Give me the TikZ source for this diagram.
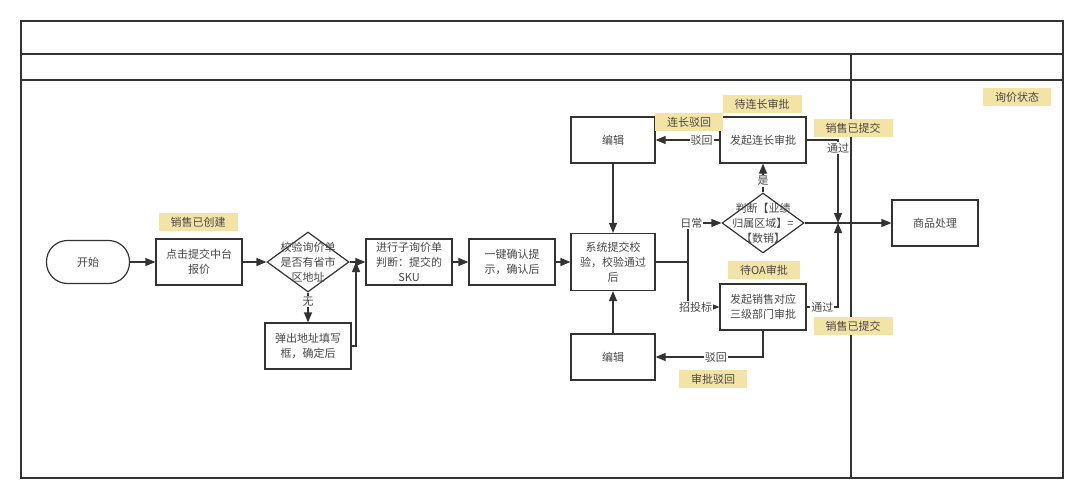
\documentclass[tikz,border=0pt]{standalone}
\usepackage{fontspec}
\setmainfont{Noto Sans CJK SC}
\usetikzlibrary{arrows.meta}
\usetikzlibrary{shapes.geometric}
\definecolor{tagyellow}{HTML}{F3E4A6}
\definecolor{linegray}{HTML}{333333}
\definecolor{txtgray}{HTML}{474747}

\begin{document}
\begin{tikzpicture}[x=1pt, y=-1pt, ->, >={Triangle[length=10pt,width=8pt]}, color=linegray, text=txtgray, line width=1.2pt, font=\fontsize{11}{15}\selectfont]
    \tikzstyle{box}=[draw=linegray, fill=white, minimum width=86, minimum height=46, align=center, inner sep=2pt]
    \tikzstyle{chk}=[diamond, draw=linegray, fill=white, inner sep=0pt, minimum width=82, minimum height=60]
    \tikzstyle{tag}=[fill=tagyellow, minimum height=18, inner xsep=12pt, inner ysep=0pt]
    \tikzstyle{lbl}=[fill=white, inner sep=1pt]
    \useasboundingbox (0,0) rectangle (1084,500);
    % frame
    \draw[-, line width=1.6pt] (21,21) rectangle (1063,478);
    \draw[-, line width=1.6pt] (21,54) -- (1063,54);
    \draw[-, line width=1.6pt] (21,80) -- (1063,80);
    \draw[-, line width=1.6pt] (851,54) -- (851,478);
    % main row
    \node[box, rounded corners=21, minimum width=83, minimum height=43]  (start)   at (88,262)	{开始};
    \node[box]    (click)[right of=start, node distance=111pt]		{点击提交中台\\报价};
    \node[chk, label={[align=center]center:校验询价单\\是否有省市\\区地址}]    (chk)[right of=click, node distance=109pt]		{};
    \node[box]    (popup)[below of=chk, node distance=84pt]		{弹出地址填写\\框，确定后};
    \node[box]    (sub)[right of=chk, node distance=101pt]		{进行子询价单\\判断：提交的\\SKU};
    \node[box]    (confirm)[right of=sub, node distance=103pt]		{一键确认提\\示，确认后};
    \node[box, minimum width=84, minimum height=57]    (sys)[right of=confirm, node distance=101pt]		{系统提交校\\验，校验通过\\后};
    \node[box, minimum width=84]    (edit1)[above of=sys, node distance=122pt]		{编辑};
    \node[box, minimum width=84]    (edit2)[below of=sys, node distance=95pt]		{编辑};
    % approval branch
    \node[chk, label={[align=center]center:判断【业绩\\归属区域】=\\【数销】}]    (dec)	at (763,223)	{};
    \node[box]    (lz)[above of=dec, node distance=83pt]		{发起连长审批};
    \node[box]    (oa)[below of=dec, node distance=84pt]		{发起销售对应\\三级部门审批};
    \node[box]    (goods)[right of=dec, node distance=172pt]		{商品处理};
    % status tags
    \node[tag]    (t1)	at (198,222)	{销售已创建};
    \node[tag]    (t2)	at (762,104)	{待连长审批};
    \node[tag]    (t3)	at (689,122)	{连长驳回};
    \node[tag]    (t4)	at (853,128)	{销售已提交};
    \node[tag]    (t5)	at (764,270)	{待OA审批};
    \node[tag]    (t6)	at (853,326)	{销售已提交};
    \node[tag]    (t7)	at (713,379)	{审批驳回};
    \node[tag]    (t8)	at (1017,97)	{询价状态};
    \coordinate (jp) at (356,262);
    \coordinate (jl) at (688,262);
    \coordinate (jr) at (838,223);
    \path
    (start)
      edge	(click)
    (click)
      edge	(chk)
    (chk)
      edge	(sub)
      edge	node[lbl, pos=0.3]{无}	(popup)
    (sub)
      edge	(confirm)
    (confirm)
      edge	(sys)
    (edit1)
      edge	(sys)
    (edit2)
      edge	(sys)
    (dec)
      edge	node[lbl, pos=0.4]{是}	(lz)
      edge	(goods)
    (lz)
      edge	node[lbl, pos=0.28]{驳回}	(edit1);
    \draw (popup.east) -| (jp);
    \draw[-] (sys.east) -- (jl);
    \draw (jl) |- node[lbl, pos=0.55]{日常} (dec.west);
    \draw (jl) |- node[lbl, pos=0.62]{招投标} (oa.west);
    \draw (lz.east) -| node[lbl, pos=0.55]{通过} (jr);
    \draw (oa.east) -| node[lbl, pos=0.25]{通过} (jr);
    \draw (oa.south) |- node[lbl, pos=0.72]{驳回} (edit2.east);
\end{tikzpicture}
\end{document}
